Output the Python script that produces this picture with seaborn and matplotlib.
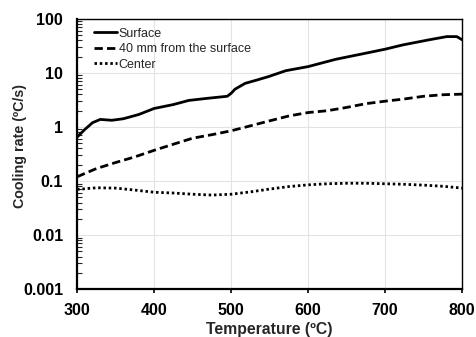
import matplotlib
matplotlib.use("Agg")
import matplotlib.pyplot as plt
import seaborn as sns
import pandas as pd
from matplotlib.ticker import LogLocator, NullFormatter, FixedLocator, FixedFormatter

# Cooling rate vs temperature at three depths of the part
surface_temp = [300, 310, 320, 330, 345, 360, 380, 400, 425, 445, 470, 495, 500, 505,
                518, 535, 549, 571, 600, 636, 671, 700, 723, 757, 780, 793, 800]
surface_rate = [0.65, 0.9, 1.2, 1.38, 1.33, 1.42, 1.7, 2.2, 2.6, 3.1, 3.4, 3.7, 4.2, 5.0,
                6.4, 7.5, 8.6, 11.0, 13.1, 17.9, 22.6, 27.5, 33.0, 41.0, 47.0, 47.0, 41.0]

mid_temp = [300, 325, 350, 375, 400, 425, 450, 475, 500, 525, 550, 575, 600, 625,
            650, 675, 700, 725, 750, 775, 800]
mid_rate = [0.12, 0.17, 0.22, 0.28, 0.37, 0.48, 0.62, 0.72, 0.85, 1.05, 1.3, 1.6, 1.85, 2.0,
            2.3, 2.7, 3.0, 3.3, 3.7, 3.95, 4.05]

center_temp = [300, 325, 350, 375, 400, 425, 450, 475, 500, 525, 550, 575, 600, 625,
               650, 675, 700, 725, 750, 775, 800]
center_rate = [0.070, 0.075, 0.074, 0.068, 0.062, 0.060, 0.057, 0.055, 0.057, 0.063, 0.071,
               0.079, 0.085, 0.089, 0.091, 0.091, 0.089, 0.087, 0.084, 0.080, 0.074]

series_labels = ["Surface", "40 mm from the surface", "Center"]
x_ticks = [300, 400, 500, 600, 700, 800]
y_ticks = [0.001, 0.01, 0.1, 1, 10, 100]
y_tick_labels = ["0.001", "0.01", "0.1", "1", "10", "100"]

sns.set_style("white")
plt.rcParams["font.family"] = ["Liberation Sans", "DejaVu Sans"]

fig = plt.figure(figsize=(4.76, 3.37), dpi=100)
ax = fig.add_axes([0.162, 0.142, 0.809, 0.802])

styles = ["-", (0, (3.0, 1.5)), (0, (0.9, 1.0))]
data = [(surface_temp, surface_rate), (mid_temp, mid_rate), (center_temp, center_rate)]
for (t, r), lab, ls in zip(data, series_labels, styles):
    df = pd.DataFrame({"Temperature": t, "Rate": r})
    sns.lineplot(data=df, x="Temperature", y="Rate", ax=ax, color="black",
                 linewidth=2.0, linestyle=ls, label=lab, dash_capstyle="butt")

ax.set_yscale("log")
ax.set_xlim(300, 800)
ax.set_ylim(0.001, 100)
ax.xaxis.set_major_locator(FixedLocator(x_ticks))
ax.yaxis.set_major_locator(FixedLocator(y_ticks))
ax.yaxis.set_major_formatter(FixedFormatter(y_tick_labels))
ax.yaxis.set_minor_locator(LogLocator(base=10, subs=range(2, 10), numticks=20))
ax.yaxis.set_minor_formatter(NullFormatter())

ax.grid(True, which="major", color="#e3e3e3", linewidth=0.8)
ax.set_axisbelow(True)

for side in ["left", "bottom"]:
    ax.spines[side].set_linewidth(1.6)
for side in ["top", "right"]:
    ax.spines[side].set_linewidth(1.0)
for s in ax.spines.values():
    s.set_color("black")

ax.tick_params(axis="both", which="major", direction="out", length=3, width=1.2,
               labelsize=11.5, colors="black")
ax.tick_params(axis="x", which="major", pad=7)
ax.tick_params(axis="y", which="major", pad=7)
ax.tick_params(axis="y", which="minor", direction="in", length=3.5, width=0.8, left=True)
ax.tick_params(axis="x", which="both", bottom=True)
for lbl in ax.get_xticklabels() + ax.get_yticklabels():
    lbl.set_fontweight("bold")

ax.set_xlabel("Temperature (ºC)", fontsize=11.3, fontweight="bold", labelpad=2.5)
ax.set_ylabel("Cooling rate (ºC/s)", fontsize=10.3, fontweight="bold")
ax.yaxis.set_label_coords(-0.13, 0.53)

ax.legend(loc="upper left", frameon=False, fontsize=9, handlelength=1.9,
          handletextpad=0.1, labelspacing=0.28, borderaxespad=0.3,
          bbox_to_anchor=(0.02, 1.0))

fig.savefig("out.png", dpi=100)
